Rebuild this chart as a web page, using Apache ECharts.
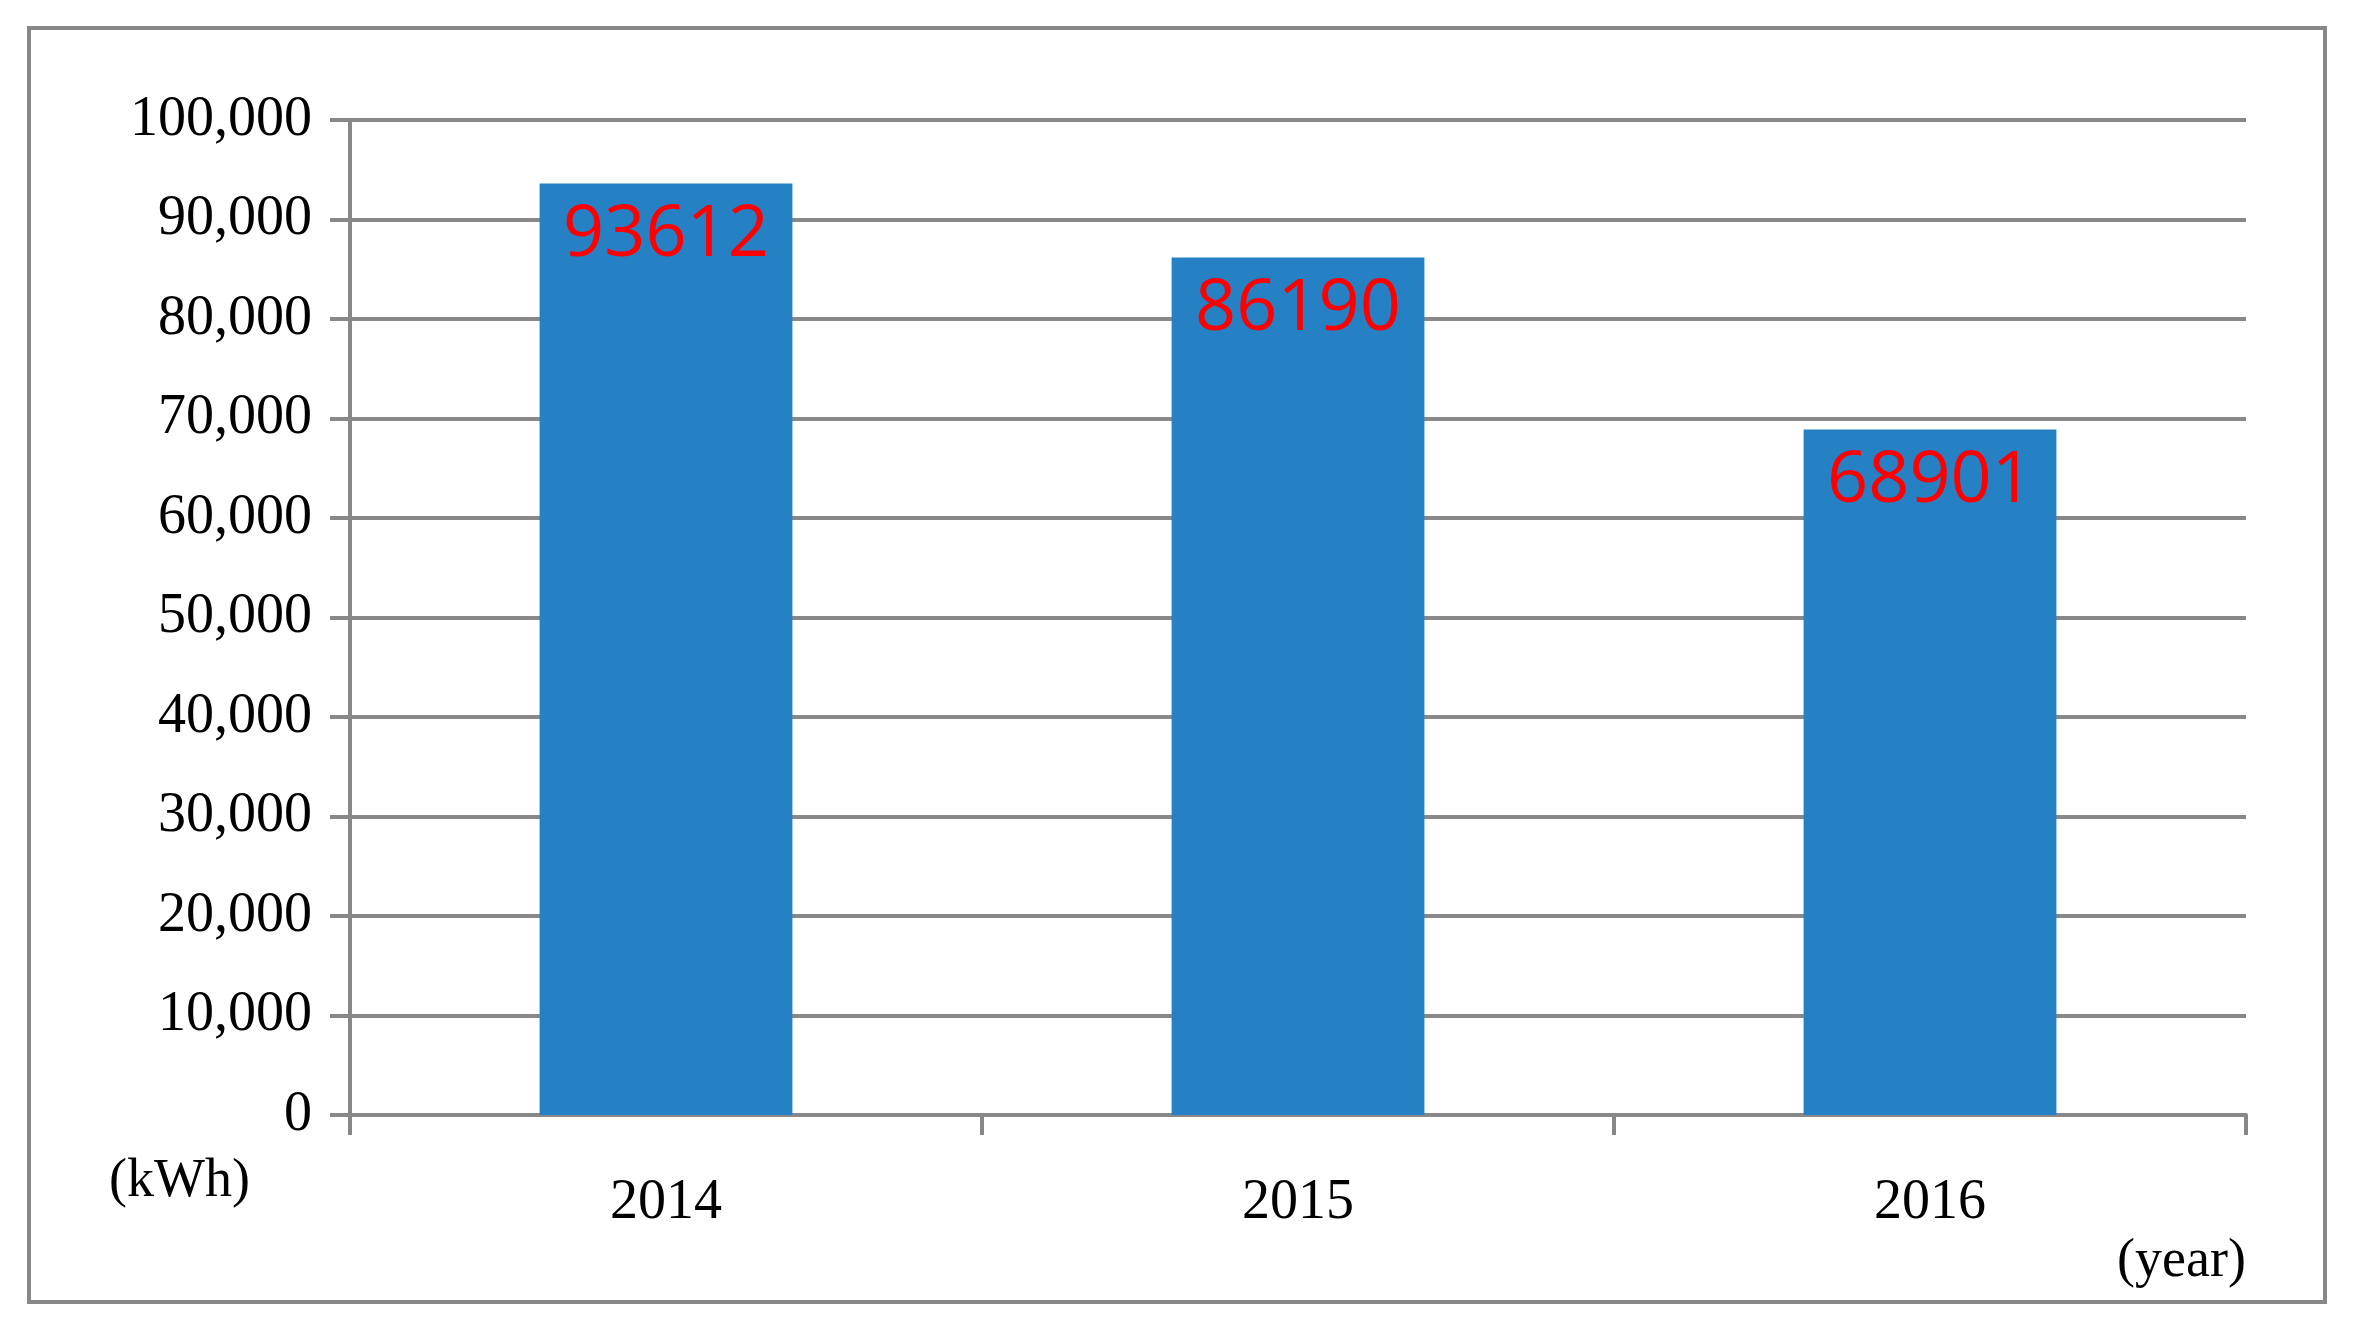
<!DOCTYPE html>
<html><head><meta charset="utf-8">
<script src="https://cdn.jsdelivr.net/npm/echarts@6/dist/echarts.min.js"></script>
<style>html,body{margin:0;padding:0;background:#fff}#c{width:2361px;height:1335px}
#b{position:absolute;left:27px;top:26px;width:2300px;height:1278px;border:4px solid #888;box-sizing:border-box;pointer-events:none}</style>
</head><body><div id="c"></div><div id="b"></div>
<script>
const categories = ['2014','2015','2016'];
const values = [93612, 86190, 68901];
const yTicks = [0,10000,20000,30000,40000,50000,60000,70000,80000,90000,100000];
const chart = echarts.init(document.getElementById('c'));
const serif = '"Liberation Serif", "DejaVu Serif", serif';
chart.setOption({
  animation:false,
  grid:{left:350,right:115,top:120,bottom:220,containLabel:false},
  xAxis:{type:'category',data:categories,
    axisLine:{lineStyle:{color:'#888',width:4}},
    axisTick:{show:true,length:20,lineStyle:{color:'#888',width:4}},
    axisLabel:{fontFamily:serif,fontSize:56,color:'#000',margin:60},
    name:'(year)',nameLocation:'end',nameGap:0,
    nameTextStyle:{fontFamily:serif,fontSize:54,color:'#000',align:'right',verticalAlign:'top',padding:[120,0,0,0]}},
  yAxis:{type:'value',min:yTicks[0],max:yTicks[yTicks.length-1],interval:10000,
    axisLine:{show:true,lineStyle:{color:'#888',width:4}},
    axisTick:{show:true,length:20,inside:false,lineStyle:{color:'#888',width:4}},
    splitLine:{lineStyle:{color:'#888',width:4}},
    axisLabel:{fontFamily:serif,fontSize:56,color:'#000',margin:38},
    name:'(kWh)',nameLocation:'start',nameGap:0,
    nameTextStyle:{fontFamily:serif,fontSize:54,color:'#000',align:'right',verticalAlign:'top',padding:[40,100,0,0]}},
  series:[{type:'bar',data:values,barWidth:'40%',itemStyle:{color:'#2581c4'},
    label:{show:true,position:'insideTop',distance:16,color:'#ff0000',fontSize:72,fontFamily:'"Open Sans","Noto Sans",sans-serif'}}]
});
</script></body></html>
